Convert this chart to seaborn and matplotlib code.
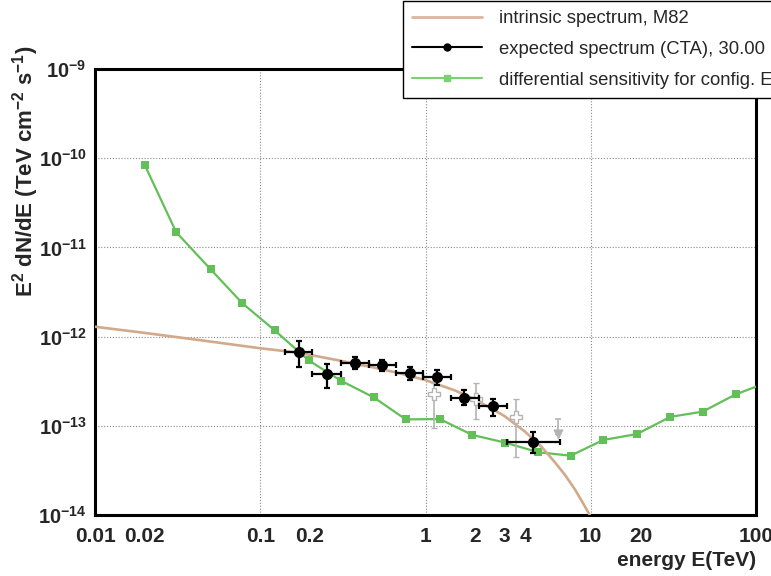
"""M82 spectrum vs. CTA differential sensitivity (ROOT-style log-log plot)."""
import matplotlib
matplotlib.use("Agg")
import matplotlib.pyplot as plt
from matplotlib.lines import Line2D
import numpy as np
import seaborn as sns

# differential sensitivity curve (green squares)
sens_energy = [0.02, 0.031, 0.05, 0.078, 0.122, 0.196, 0.308, 0.487, 0.759, 1.22,
               1.92, 3.04, 4.82, 7.56, 11.9, 19.05, 30.3, 47.5, 75.3, 119.0]
sens_flux = [8.4e-11, 1.48e-11, 5.7e-12, 2.36e-12, 1.18e-12, 5.42e-13, 3.2e-13, 2.08e-13,
             1.18e-13, 1.19e-13, 7.9e-14, 6.47e-14, 5.05e-14, 4.62e-14, 6.93e-14, 8.09e-14,
             1.26e-13, 1.44e-13, 2.25e-13, 3.1e-13]

# intrinsic spectrum
intr_energy = [0.01, 0.02, 0.05, 0.1, 0.17, 0.3, 0.5, 0.7, 1.0, 1.5, 2.0, 3.0, 4.0,
               5.0, 6.0, 7.0, 8.0, 9.0, 10.0, 11.0]
intr_flux = [1.29e-12, 1.10e-12, 8.8e-13, 7.4e-13, 6.6e-13, 5.4e-13, 4.45e-13, 3.87e-13,
             3.25e-13, 2.5e-13, 1.97e-13, 1.29e-13, 8.6e-14, 5.9e-14, 4.0e-14, 2.8e-14,
             1.95e-14, 1.35e-14, 9.5e-15, 6.6e-15]

# expected spectrum (CTA), with bin edges and flux error bounds
cta_energy = [0.172, 0.255, 0.374, 0.546, 0.805, 1.18, 1.72, 2.55, 4.45]
cta_e_lo = [0.141, 0.207, 0.31, 0.456, 0.66, 0.97, 1.42, 2.1, 3.1]
cta_e_hi = [0.207, 0.31, 0.456, 0.66, 0.97, 1.43, 2.1, 3.1, 6.5]
cta_flux = [6.78e-13, 3.78e-13, 5.0e-13, 4.76e-13, 3.88e-13, 3.55e-13, 2.07e-13, 1.67e-13, 6.53e-14]
cta_f_lo = [4.53e-13, 2.63e-13, 4.3e-13, 4.1e-13, 3.3e-13, 2.9e-13, 1.7e-13, 1.3e-13, 5.0e-14]
cta_f_hi = [9.0e-13, 4.93e-13, 5.9e-13, 5.5e-13, 4.6e-13, 4.2e-13, 2.5e-13, 2.0e-13, 8.6e-14]

# low-significance points (grey open crosses) and one upper limit
weak_energy = [1.125, 2.01, 3.53]
weak_flux = [2.27e-13, 2.0e-13, 1.26e-13]
weak_f_lo = [9.4e-14, 1.2e-13, 4.5e-14]
weak_f_hi = [3.0e-13, 3.05e-13, 2.0e-13]
ul_energy = [6.37]
ul_top = [1.2e-13]
ul_tip = [8.0e-14]

x_major = [0.01, 0.1, 1, 10, 100]
x_major_labels = ["0.01", "0.1", "1", "10", "100"]
x_minor_labelled = {0.02: "0.02", 0.2: "0.2", 2: "2", 3: "3", 4: "4", 20: "20"}
y_major = [1e-14, 1e-13, 1e-12, 1e-11, 1e-10, 1e-9]
y_major_labels = [r"$\mathbf{10^{-14}}$", r"$\mathbf{10^{-13}}$", r"$\mathbf{10^{-12}}$",
                  r"$\mathbf{10^{-11}}$", r"$\mathbf{10^{-10}}$", r"$\mathbf{10^{-9}}$"]

legend_labels = ["intrinsic spectrum, M82",
                 "expected spectrum (CTA), 30.00 h",
                 "differential sensitivity for config. E"]

GREEN = "#63bf57"
BROWN = "#d1a98b"
GREY = "#b4b4b4"

sns.set_theme(style="white")
plt.rcParams["font.family"] = ["Liberation Sans", "DejaVu Sans"]
plt.rcParams["mathtext.fontset"] = "custom"
plt.rcParams["mathtext.rm"] = "Liberation Sans"
plt.rcParams["mathtext.bf"] = "Liberation Sans:bold"
plt.rcParams["mathtext.it"] = "Liberation Sans:italic"

fig = plt.figure(figsize=(7.71, 5.76), dpi=100)
ax = fig.add_axes([95 / 771, 1 - 515 / 576, 661 / 771, 446 / 576])
ax.set_xscale("log")
ax.set_yscale("log")

sns.lineplot(x=sens_energy, y=sens_flux, ax=ax, color=GREEN, linewidth=1.6, marker="s",
             markersize=6, markeredgewidth=0, sort=False, estimator=None, zorder=3)
sns.lineplot(x=intr_energy, y=intr_flux, ax=ax, color=BROWN, linewidth=1.9,
             sort=False, estimator=None, zorder=4)

wf = np.array(weak_flux)
ax.errorbar(weak_energy, weak_flux, yerr=[wf - np.array(weak_f_lo), np.array(weak_f_hi) - wf],
            fmt="P", color=GREY, mfc="white", mec=GREY, ms=8, mew=1.0,
            elinewidth=1.2, capsize=2.5, capthick=1.2, zorder=5)
ut = np.array(ul_top)
ax.errorbar(ul_energy, ul_top, yerr=[ut - np.array(ul_tip), np.zeros(1)], fmt="none",
            ecolor=GREY, elinewidth=1.2, capsize=2.5, capthick=1.2, zorder=5)
sns.scatterplot(x=ul_energy, y=ul_tip, ax=ax, marker="v", s=45, color=GREY,
                edgecolor=GREY, zorder=6)

ce = np.array(cta_energy)
cf = np.array(cta_flux)
ax.errorbar(cta_energy, cta_flux,
            xerr=[ce - np.array(cta_e_lo), np.array(cta_e_hi) - ce],
            yerr=[cf - np.array(cta_f_lo), np.array(cta_f_hi) - cf],
            fmt="o", color="black", ms=7, elinewidth=1.6, capsize=2.5, capthick=1.6, zorder=7)

ax.set_xlim(0.01, 100)
ax.set_ylim(1e-14, 1e-9)

ax.set_xticks(x_major, x_major_labels)
minor_x = [m * d for d in [0.01, 0.1, 1, 10] for m in range(2, 10)]
ax.set_xticks(minor_x, [x_minor_labelled.get(round(v, 4), "") for v in minor_x], minor=True)
ax.set_yticks(y_major, y_major_labels)
minor_y = [m * d for d in [1e-14, 1e-13, 1e-12, 1e-11, 1e-10] for m in range(2, 10)]
ax.set_yticks(minor_y, [""] * len(minor_y), minor=True)

ax.tick_params(which="both", direction="in", top=False, right=False, color="#555555",
               width=1.0, labelsize=15)
ax.tick_params(which="major", length=12)
ax.tick_params(which="minor", length=6.5)
ax.tick_params(axis="x", which="both", pad=9)
ax.tick_params(axis="y", which="both", pad=6, labelsize=14.5)
for lab in ax.get_xticklabels(which="both"):
    lab.set_fontweight("bold")

ax.grid(which="major", color="#8a8a8a", linestyle=(0, (1, 1.6)), linewidth=0.8)
for sp in ax.spines.values():
    sp.set_linewidth(2.2)
    sp.set_color("black")

fig.text(26 / 771, 1 - 171 / 576,
         r"$\mathbf{E^{2}\ dN/dE\ (TeV\ cm^{-2}\ s^{-1})}$",
         rotation=90, ha="center", va="center", fontsize=16)
fig.text(756 / 771, 1 - 561 / 576, "energy E(TeV)", ha="right", va="center",
         fontsize=15, fontweight="bold")

handles = [Line2D([], [], color="#dcb49f", linewidth=2),
           Line2D([], [], color="black", marker="o", ms=5, linewidth=1.5),
           Line2D([], [], color="#7bd06f", marker="s", ms=4, linewidth=1.5)]
leg = fig.legend(handles, legend_labels, loc="upper left",
                 bbox_to_anchor=(403 / 771, 1 - 1 / 576), frameon=True, fancybox=False,
                 edgecolor="black", facecolor="white", framealpha=1, fontsize=13.3,
                 handlelength=3.8, handletextpad=0.9, borderpad=0.5, labelspacing=0.74,
                 borderaxespad=0)
leg.get_frame().set_linewidth(1.0)
leg.set_zorder(10)

fig.savefig("out.png", dpi=100)
